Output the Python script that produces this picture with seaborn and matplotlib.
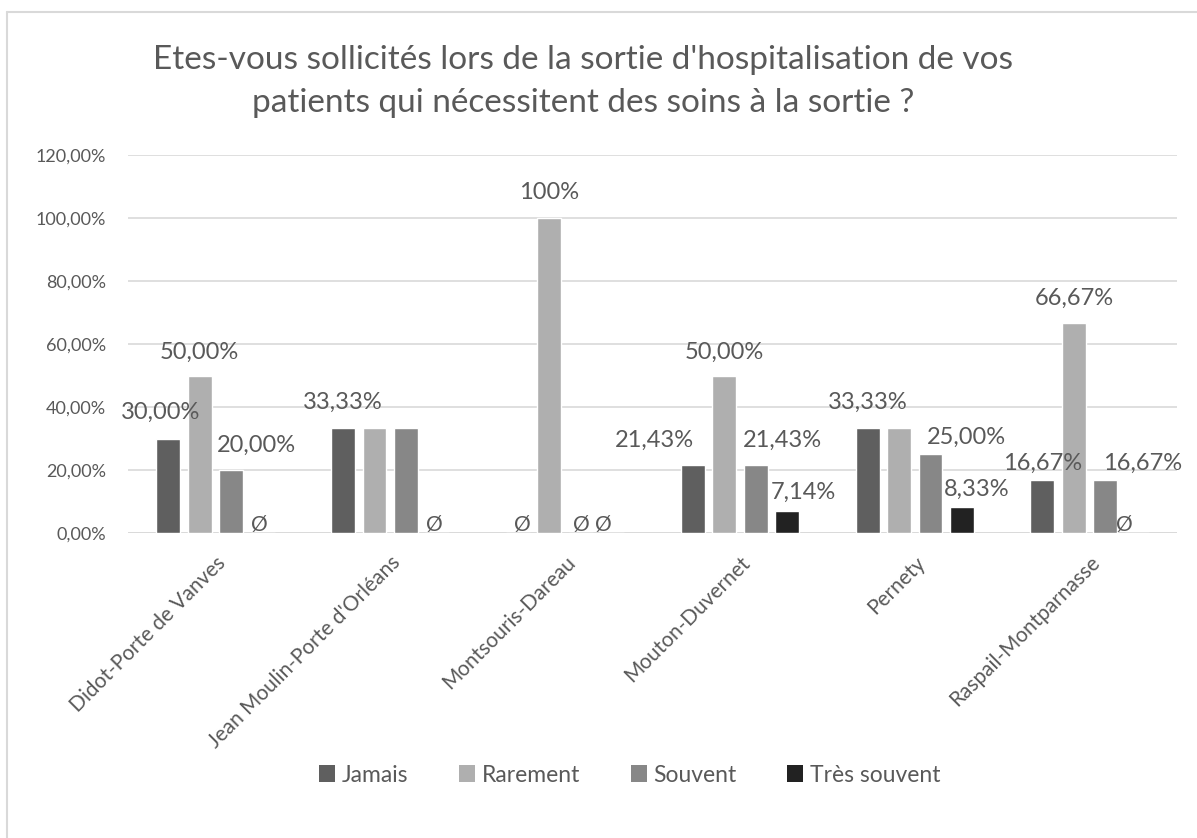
import matplotlib
matplotlib.use("Agg")
import matplotlib.pyplot as plt
from matplotlib.lines import Line2D
from matplotlib.patches import Patch
import seaborn as sns
import pandas as pd

# ---- data -------------------------------------------------------------
sites = [
    "Didot-Porte de Vanves",
    "Jean Moulin-Porte d'Orléans",
    "Montsouris-Dareau",
    "Mouton-Duvernet",
    "Pernety",
    "Raspail-Montparnasse",
]
series = ["Jamais", "Rarement", "Souvent", "Très souvent"]

jamais = [30.00, 33.33, 0.00, 21.43, 33.33, 16.67]
rarement = [50.00, 33.33, 100.00, 50.00, 33.33, 66.67]
souvent = [20.00, 33.33, 0.00, 21.43, 25.00, 16.67]
tres_souvent = [0.00, 0.00, 0.00, 7.14, 8.33, 0.00]

y_ticks = [0, 20, 40, 60, 80, 100, 120]
title_lines = [
    "Etes-vous sollicités lors de la sortie d'hospitalisation de vos",
    "patients qui nécessitent des soins à la sortie ?",
]

# ---- styling ------------------------------------------------------------
palette = {"Jamais": "#5f5f5f", "Rarement": "#afafaf",
           "Souvent": "#878787", "Très souvent": "#222222"}
text_col = "#595959"
grid_col = "#d9d9d9"

# labels Excel dropped because they collided with neighbours
hidden_labels = {(1, 1), (1, 2), (4, 1)}
# per-label nudges in pixels (dx, dy above bar top)
label_nudge = {
    (0, 0): (-8, 26), (0, 1): (0, 23), (0, 2): (25, 25), (0, 3): (-3, 8),
    (1, 0): (0, 26), (1, 3): (-3, 8),
    (2, 0): (4, 8), (2, 1): (0, 26), (2, 2): (1, 8), (2, 3): (-9, 8),
    (3, 0): (-38, 25), (3, 1): (0, 23), (3, 2): (27, 25), (3, 3): (16, 18),
    (4, 0): (0, 26), (4, 2): (36, 17), (4, 3): (15, 17),
    (5, 0): (0, 17), (5, 1): (0, 25), (5, 2): (37, 17), (5, 3): (-12, 8),
}


def fmt(v):
    if v == 0:
        return "Ø"
    if v == 100:
        return "100%"
    return f"{v:.2f}%".replace(".", ",")


sns.set_theme(style="white")
plt.rcParams["font.family"] = ["Lato", "DejaVu Sans"]

values = {"Jamais": jamais, "Rarement": rarement,
          "Souvent": souvent, "Très souvent": tres_souvent}
df = pd.DataFrame(
    [(s, name, v) for name in series for s, v in zip(sites, values[name])],
    columns=["site", "serie", "valeur"],
)

W, H = 1197, 838
fig = plt.figure(figsize=(W / 100, H / 100), dpi=100)
ax = fig.add_axes([128 / W, 1 - 533 / H, (1177 - 128) / W, (533 - 155) / H])

sns.barplot(data=df, x="site", y="valeur", hue="serie", order=sites,
            hue_order=series, palette=palette, width=0.72, gap=0.24,
            saturation=1, errorbar=None, legend=False, ax=ax)

ax.set_ylim(0, 120)
ax.set_xlim(-0.5, len(sites) - 0.5)
ax.set_yticks(y_ticks)
ax.set_yticklabels([f"{t},00%" for t in y_ticks], color=text_col, fontsize=13)
ax.yaxis.grid(True, color=grid_col, linewidth=1.2)
ax.set_axisbelow(True)
for sp in ax.spines.values():
    sp.set_visible(False)
ax.axhline(0, color=grid_col, linewidth=1.2, zorder=0.5)
ax.tick_params(axis="y", length=0, pad=16)
ax.tick_params(axis="x", length=0, pad=14)
ax.set_xlabel("")
ax.set_ylabel("")
ax.set_xticks(range(len(sites)))
ax.set_xticklabels(sites, rotation=45, ha="right", rotation_mode="anchor",
                   color=text_col, fontsize=15)

# data labels
for si, cont in enumerate(ax.containers):
    for ci, bar in enumerate(cont):
        if (ci, si) in hidden_labels:
            continue
        v = values[series[si]][ci]
        dx, dy = label_nudge.get((ci, si), (0, 17))
        ax.annotate(fmt(v), (bar.get_x() + bar.get_width() / 2, bar.get_height()),
                    xytext=(dx, dy), textcoords="offset pixels",
                    ha="center", va="center", color=text_col,
                    fontsize=17 if v else 15, annotation_clip=False)

# title
fig.text(583 / W, 1 - 60 / H, title_lines[0], ha="center", va="center",
         fontsize=24, color=text_col)
fig.text(583 / W, 1 - 103 / H, title_lines[1], ha="center", va="center",
         fontsize=24, color=text_col)

# legend
handles = [Patch(facecolor=palette[s], edgecolor="none") for s in series]
fig.legend(handles, series, loc="center", bbox_to_anchor=(630 / W, 1 - 775 / H),
           ncol=4, frameon=False, fontsize=16.5, labelcolor=text_col,
           handlelength=0.7, handleheight=0.7, handletextpad=0.3,
           columnspacing=2.2)

# chart frame
fig.add_artist(Line2D([7 / W, 1], [1 - 12 / H, 1 - 12 / H], color=grid_col,
                      linewidth=1.5, transform=fig.transFigure))
fig.add_artist(Line2D([7 / W, 7 / W], [0, 1 - 12 / H], color=grid_col,
                      linewidth=1.5, transform=fig.transFigure))

fig.savefig("out.png", dpi=100, facecolor="white")
